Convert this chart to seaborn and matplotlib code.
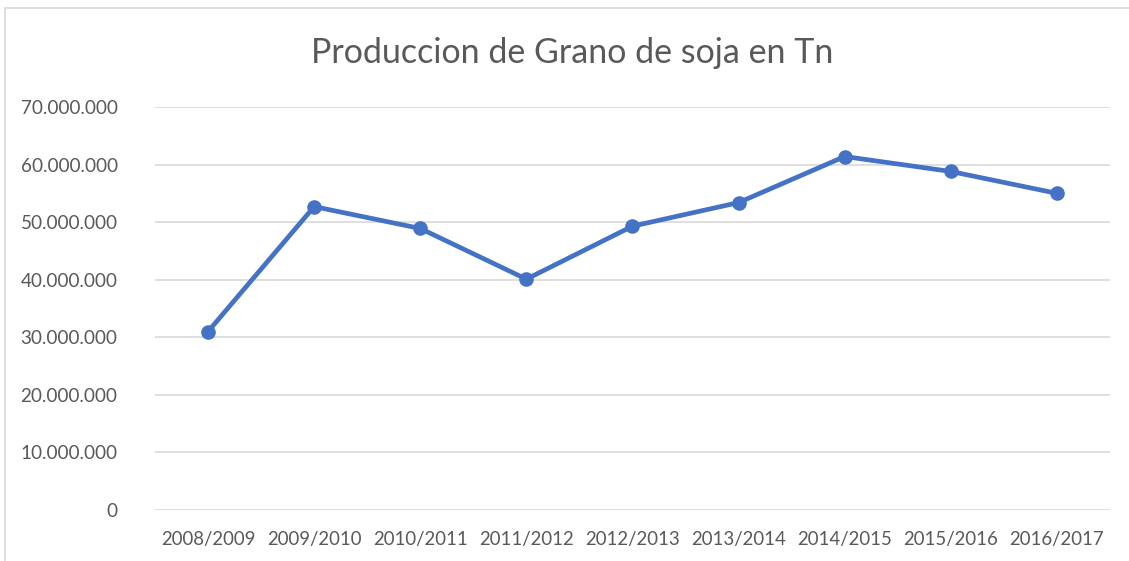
import matplotlib
matplotlib.use("Agg")
import matplotlib.pyplot as plt
import seaborn as sns
import pandas as pd
from matplotlib.ticker import FuncFormatter, MultipleLocator
from matplotlib.patches import Rectangle

campanas = ["2008/2009", "2009/2010", "2010/2011", "2011/2012", "2012/2013",
            "2013/2014", "2014/2015", "2015/2016", "2016/2017"]
produccion = [31000000, 52700000, 48900000, 40100000, 49300000,
              53400000, 61400000, 58800000, 55000000]
titulo = "Produccion de Grano de soja en Tn"

df = pd.DataFrame({"campana": campanas, "produccion": produccion})
df["pos"] = range(len(campanas))

sns.set_theme(style="white")
plt.rcParams["font.family"] = ["Lato", "DejaVu Sans"]

fig = plt.figure(figsize=(11.29, 5.61), dpi=100)
ax = fig.add_axes([155 / 1129, 1 - 510 / 561, (1110 - 155) / 1129, (510 - 107) / 561])

sns.lineplot(data=df, x="pos", y="produccion", ax=ax, color="#4472C4",
             linewidth=3.4, marker="o", markersize=10.5, markeredgewidth=0)

ax.set_xlim(-0.5, len(campanas) - 0.5)
ax.set_ylim(0, 70000000)
ax.yaxis.set_major_locator(MultipleLocator(10000000))
ax.yaxis.set_major_formatter(FuncFormatter(lambda v, p: f"{int(v):,}".replace(",", ".")))
ax.set_xticks(range(len(campanas)))
ax.set_xticklabels(campanas)
ax.grid(axis="y", color="#D9D9D9", linewidth=1.2)
ax.grid(axis="x", visible=False)
for s in ax.spines.values():
    s.set_visible(False)
ax.tick_params(axis="y", labelsize=13.6, colors="#595959", length=0, pad=27)
ax.tick_params(axis="x", labelsize=13.4, colors="#595959", length=0, pad=15)
ax.set_xlabel("")
ax.set_ylabel("")

fig.text(572 / 1129, 1 - 53 / 561, titulo, ha="center", va="center",
         fontsize=24.5, color="#595959")

fig.patches.append(Rectangle((5 / 1129, -0.1), 1.2, 1 - 8 / 561 + 0.1,
                             transform=fig.transFigure, fill=False,
                             edgecolor="#D9D9D9", linewidth=1.2))

fig.savefig("out.png", dpi=100, facecolor="white")
